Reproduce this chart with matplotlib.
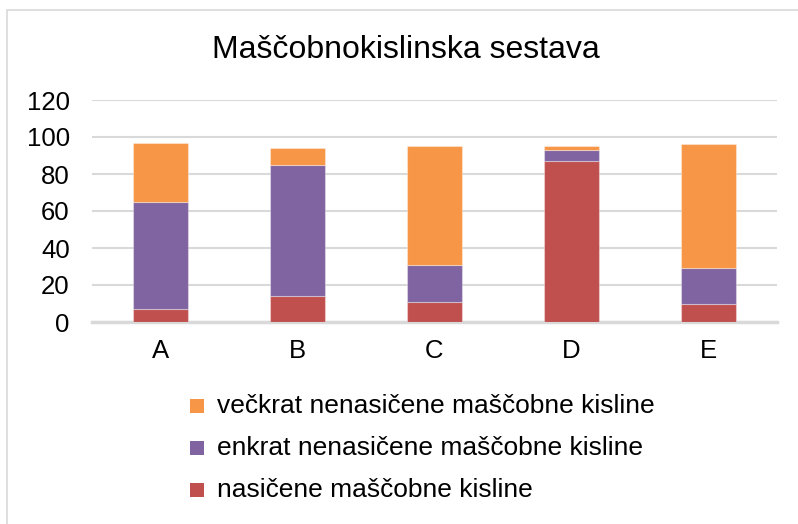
import matplotlib
matplotlib.use('Agg')

import matplotlib.pyplot as plt
from matplotlib.patches import Rectangle

plt.rcParams['font.family'] = ['Liberation Sans', 'DejaVu Sans']

# ─── Data ────────────────────────────────────────────────────────────────────
categories = ["A", "B", "C", "D", "E"]
nasicene = [7, 14, 11, 87, 10]
enkrat = [58, 71, 20, 6, 19]
veckrat = [32, 9, 64, 2, 67]

series_labels = [
    "nasičene maščobne kisline",
    "enkrat nenasičene maščobne kisline",
    "večkrat nenasičene maščobne kisline",
]
colors = ["#C0504D", "#8064A2", "#F79646"]
title = "Maščobnokislinska sestava"
y_ticks = [0, 20, 40, 60, 80, 100, 120]

W, H = 798, 524
fig = plt.figure(figsize=(W / 100, H / 100), dpi=100)
fig.patch.set_facecolor("white")

# chart border
fig.add_artist(Rectangle((7 / W, -0.05), 1.1, 1 - 10 / H + 0.05,
                         transform=fig.transFigure, fill=False,
                         edgecolor="#D9D9D9", linewidth=1.2))

ax = fig.add_axes([92 / W, 1 - 322 / H, 685 / W, 222 / H])
x = range(len(categories))
bottom = [0] * len(categories)
for vals, col in zip([nasicene, enkrat, veckrat], colors):
    ax.bar(x, vals, width=0.4, bottom=bottom, color=col,
           edgecolor=(1, 1, 1, 0.35), linewidth=0.8, zorder=3)
    bottom = [b + v for b, v in zip(bottom, vals)]

ax.set_xlim(-0.5, len(categories) - 0.5)
ax.set_ylim(0, 120)
ax.set_yticks(y_ticks)
ax.set_xticks(list(x))
ax.set_xticklabels(categories)
ax.tick_params(axis="both", length=0, labelsize=18.5, colors="black")
ax.tick_params(axis="y", pad=16)
ax.tick_params(axis="x", pad=12)
ax.yaxis.grid(True, color="#D9D9D9", linewidth=1.5, zorder=0)
ax.set_axisbelow(True)
for side in ["left", "right", "top"]:
    ax.spines[side].set_visible(False)
ax.spines["bottom"].set_color("#D9D9D9")
ax.spines["bottom"].set_linewidth(2.5)

fig.text(406 / W, 1 - 50 / H, title, ha="center", va="center", fontsize=23)

# legend (reversed order: top of stack first)
legend_rows = [406, 448, 490]
for y_px, lab, col in zip(legend_rows, series_labels[::-1], colors[::-1]):
    fig.add_artist(Rectangle((190 / W, 1 - (y_px + 7) / H), 14 / W, 14 / H,
                             transform=fig.transFigure, facecolor=col,
                             edgecolor="none"))
    fig.text(217 / W, 1 - y_px / H, lab, ha="left", va="center", fontsize=19)

fig.savefig("out.png", dpi=100, facecolor=fig.get_facecolor())
